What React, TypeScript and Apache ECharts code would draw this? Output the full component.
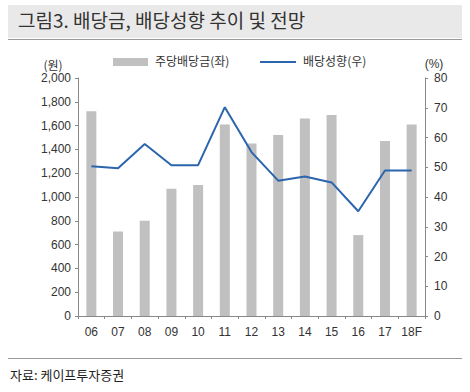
import React, { useEffect, useRef } from "react";
import * as echarts from "echarts";

const categories = ["06", "07", "08", "09", "10", "11", "12", "13", "14", "15", "16", "17", "18F"];
const dividendPerShare = [1720, 710, 800, 1070, 1100, 1610, 1450, 1520, 1660, 1690, 680, 1470, 1610];
const payoutRatio = [50.3, 49.7, 57.8, 50.7, 50.7, 70.2, 55.1, 45.5, 46.9, 44.9, 35.2, 48.9, 48.9];
const leftTicks = { min: 0, max: 2000, interval: 200 };
const rightTicks = { min: 0, max: 80, interval: 10 };
const seriesNames = ["주당배당금(좌)", "배당성향(우)"];

const titleText = "그림3. 배당금, 배당성향 추이 및 전망";
const sourceText = "자료: 케이프투자증권";

export default function App() {
  const ref = useRef<HTMLDivElement>(null);
  useEffect(() => {
    if (!ref.current) return;
    const chart = echarts.init(ref.current, undefined, { renderer: "svg" });
    const labelFont = "'Liberation Sans', Arial, 'Noto Sans CJK KR', sans-serif";
    const krFont = "'Noto Sans CJK KR', sans-serif";
    const barColor = "#c0c0c0";
    const lineColor = "#2b65ad";
    chart.setOption({
      animation: false,
      backgroundColor: "#ffffff",
      grid: { left: 78, right: 45, top: 78, bottom: 76 },
      xAxis: {
        type: "category",
        data: categories,
        axisLine: { lineStyle: { color: "#888", width: 1 } },
        axisTick: { show: true, length: 3, lineStyle: { color: "#888" } },
        axisLabel: { fontFamily: labelFont, fontSize: 12, color: "#333", margin: 10, interval: 0 },
      },
      yAxis: [
        {
          type: "value",
          ...leftTicks,
          position: "left",
          name: "(원)",
          nameLocation: "end",
          nameGap: 8,
          nameTextStyle: { fontFamily: krFont, fontSize: 12, color: "#333", align: "center", padding: [0, 0, 0, -50] },
          splitLine: { show: false },
          axisLine: { show: true, lineStyle: { color: "#888" } },
          axisTick: { show: true, length: 3, lineStyle: { color: "#888" } },
          axisLabel: {
            fontFamily: labelFont,
            fontSize: 12,
            color: "#333",
            margin: 7,
            formatter: (v: number) => v.toLocaleString("en-US"),
          },
        },
        {
          type: "value",
          ...rightTicks,
          position: "right",
          name: "(%)",
          nameLocation: "end",
          nameGap: 8,
          nameTextStyle: { fontFamily: labelFont, fontSize: 12, color: "#333", align: "center", padding: [0, 0, 0, 18] },
          splitLine: { show: false },
          axisLine: { show: true, lineStyle: { color: "#888" } },
          axisTick: { show: true, length: 3, lineStyle: { color: "#888" } },
          axisLabel: { fontFamily: labelFont, fontSize: 12, color: "#333", margin: 9 },
        },
      ],
      series: [
        {
          name: seriesNames[0],
          type: "bar",
          yAxisIndex: 0,
          data: dividendPerShare,
          barWidth: 10,
          itemStyle: { color: barColor },
        },
        {
          name: seriesNames[1],
          type: "line",
          yAxisIndex: 1,
          data: payoutRatio,
          symbol: "none",
          lineStyle: { color: lineColor, width: 2 },
          itemStyle: { color: lineColor },
        },
      ],
      graphic: [
        {
          type: "rect",
          shape: { x: 8, y: 5, width: 454, height: 33 },
          style: { fill: "#e9e9e9" },
        },
        {
          type: "line",
          shape: { x1: 8, y1: 39.5, x2: 462, y2: 39.5 },
          style: { stroke: "#9a9a9a", lineWidth: 1 },
        },
        {
          type: "text",
          left: 18,
          top: 10,
          style: { text: titleText, font: `19px ${krFont}`, fill: "#333" },
        },
        {
          type: "rect",
          shape: { x: 113, y: 58, width: 35, height: 8 },
          style: { fill: barColor },
        },
        {
          type: "text",
          left: 155,
          top: 54,
          style: { text: seriesNames[0], font: `12px ${krFont}`, fill: "#333" },
        },
        {
          type: "line",
          shape: { x1: 260, y1: 62, x2: 296, y2: 62 },
          style: { stroke: lineColor, lineWidth: 2 },
        },
        {
          type: "text",
          left: 303,
          top: 54,
          style: { text: seriesNames[1], font: `12px ${krFont}`, fill: "#333" },
        },
        {
          type: "line",
          shape: { x1: 8, y1: 358.5, x2: 462, y2: 358.5 },
          style: { stroke: "#9a9a9a", lineWidth: 1 },
        },
        {
          type: "text",
          left: 10,
          top: 368,
          style: { text: sourceText, font: `13px ${krFont}`, fill: "#222" },
        },
      ],
    });
    return () => chart.dispose();
  }, []);
  return (
    <div
      ref={ref}
      style={{ position: "absolute", left: 0, top: 0, width: 470, height: 392 }}
    />
  );
}
